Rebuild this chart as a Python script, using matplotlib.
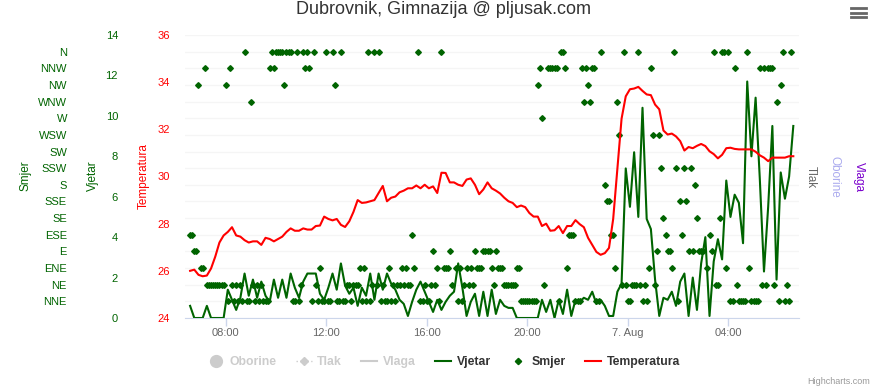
import numpy as np
import matplotlib.pyplot as plt
from matplotlib.lines import Line2D

plt.rcParams['font.family'] = ['Liberation Sans', 'DejaVu Sans']

# wind direction categories, bottom (1) to top (16)
smjer_kat = ['NNE', 'NE', 'ENE', 'E', 'ESE', 'SE', 'SSE', 'S',
             'SSW', 'SW', 'WSW', 'W', 'WNW', 'NW', 'NNW', 'N']

start_h = 6 + 35 / 60  # 06:35, hours since 6. Aug 00:00

# temperature every 10 min
temp = [26.0, 26.05, 25.83, 25.77, 25.8, 26.1, 26.6, 27.2, 27.5, 27.65,
        27.85, 27.5, 27.45, 27.3, 27.2, 27.25, 27.25, 27.1, 27.4, 27.35,
        27.25, 27.35, 27.45, 27.65, 27.8, 27.7, 27.7, 27.8, 27.75, 27.75,
        27.9, 27.92, 28.3, 28.2, 28.14, 28.2, 27.95, 27.86, 28.1, 28.5,
        29.0, 28.88, 28.9, 28.95, 29.0, 29.3, 29.6, 28.95, 29.1, 29.15,
        29.33, 29.4, 29.5, 29.5, 29.62, 29.5, 29.65, 29.5, 29.58, 29.3,
        30.16, 30.15, 29.75, 29.75, 29.65, 29.6, 29.87, 29.92, 29.65, 29.25,
        29.45, 29.75, 29.5, 29.4, 29.28, 29.1, 28.95, 28.88, 28.7, 28.77,
        28.7, 28.45, 28.3, 28.3, 27.9, 28.0, 27.7, 27.72, 27.9, 27.6,
        27.9, 27.9, 28.15, 27.98, 27.85, 27.4, 27.1, 26.8, 26.68, 26.75,
        26.97, 28.2, 30.3, 32.45, 33.4, 33.7, 33.73, 33.8, 33.63, 33.48,
        33.45, 33.05, 32.85, 31.95, 31.78, 31.82, 31.7, 31.5, 31.1, 31.25,
        31.2, 31.3, 31.38, 31.29, 31.07, 30.95, 30.77, 30.92, 31.2, 31.22,
        31.17, 31.15, 31.15, 31.15, 31.15, 31.05, 30.9, 30.8, 30.65, 30.8,
        30.8, 30.8, 30.8, 30.86, 30.86]

# wind speed every 10 min
vjetar = [0.6, 0, 0, 0, 0.6, 0, 0, 0, 0, 1.4,
          0.9, 0.4, 1.0, 2.2, 1.1, 1.9, 1.0, 1.8, 1.1, 0.8,
          1.9, 1.0, 1.9, 1.0, 2.2, 1.5, 1.0, 1.8, 2.2, 2.2,
          2.2, 1.2, 0.9, 1.5, 2.2, 1.4, 2.7, 1.6, 1.2, 1.5,
          0.6, 1.5, 1.1, 2.2, 0.9, 2.2, 1.4, 2.2, 1.7, 1.4,
          0.9, 0.7, 0.1, 0.8, 1.4, 1.8, 1.3, 0.8, 0.3, 0.9,
          0.4, 0.8, 1.1, 1.3, 2.7, 1.5, 0.1, 0.8, 1.2, 0.1,
          1.3, 0.1, 1.4, 0.2, 0.9, 0.6, 0.5, 0.5, 0, 0,
          0, 0, 0, 0, 0.9, 0.3, 0.9, 0, 0.9, 0.2,
          1.4, 0.1, 0.9, 0.8, 1.0, 0.9, 1.3, 0.7, 0.9, 0.6,
          0.1, 0.1, 1.3, 1.7, 7.4, 5.5, 8.2, 5.0, 10.4, 4.9,
          4.4, 1.9, 0.1, 1.0, 0.9, 1.3, 0.6, 1.8, 2.2, 0.1,
          2.0, 0.4, 2.7, 4.0, 0.1, 2.8, 3.9, 2.9, 6.8, 5.0,
          6.1, 5.7, 3.7, 11.7, 8.0, 10.9, 6.9, 2.3, 5.5, 9.5,
          1.9, 7.2, 5.9, 7.0, 9.5]

# wind direction every 5 min ('-' = none)
smjer = """
ESE ESE E E NW ENE ENE NNW NE NE
NE NE NE NE NE NE NE NW NNE NNW
NE NNE NE NNE NE NNE N NNE NNE WNW
NE NNE NE NNE NE NNE NNE NNE NNW N
NNW N N N N NW N N N NNE
NNE N NNE NE N NNW N NNW NNE N
NE NNE ENE NNE NNE N NNE NNE N NW
NNE NNE N NNE NNE NE NE NNE NE NE
NE ENE NNE ENE NNE N NNE NE N NE
N NNE NE NNE NNE ENE NNE NE NNE NE
NE ENE NE ENE NE NE ESE ENE - N
NNE NNE NE NNE NNE NE E NE ENE NNE
N ENE ENE ENE E NE - ENE NNE ENE
NNE NE ENE NE ENE NE E ENE ENE ENE
E E E E ENE NE E ENE ENE ENE
NE NE NE NE NE NE ENE ENE NNE NNE
NNE NNE NNE NNE NNE NNE NW NNW W NE
- NNW NNW NNW NNW NNW NNE N N NNW
ENE ESE ESE ESE NNE NNE NNE NNW WNW NNW
NW WNW NNW NNW NNE NNE N - S SSE
SSE ESE ESE ENE WNW WSW NE N NE NNE
NNE NE NE NE N NE NNE NE NNE ENE
NNW WSW NE E WSW SSW SE ESE E E
ENE N SSW NNE SSE ESE SSW SSE E SSW
E S SE E E E - ENE ESE E
N NE NE SE N N ENE N NNE NNE
NNW NE NNE NNE NNE NNE N ENE NNE NNE
NNE NNE NNW NE NNW NE NNW NNW NNW NE
WNW NNE NW N NNE NE NNE N -
""".split()

xtick_h = [8, 12, 16, 20, 24, 28]
xtick_lab = ['08:00', '12:00', '16:00', '20:00', '7. Aug', '04:00']

t10 = start_h + np.arange(len(temp)) * 10 / 60
t5 = start_h + np.arange(len(smjer)) * 5 / 60
smjer_val = np.array([smjer_kat.index(s) + 1 if s != '-' else np.nan for s in smjer])

green = '#006400'
fig = plt.figure(figsize=(8.76, 3.86), dpi=100)
W, H = 876, 386
rect = [185 / W, 1 - 318 / H, 614 / W, 283 / H]

ax_s = fig.add_axes(rect)
ax_v = fig.add_axes(rect, sharex=ax_s)
ax_t = fig.add_axes(rect, sharex=ax_s)
for a in (ax_v, ax_t):
    a.set_facecolor('none')
for a in (ax_s, ax_v, ax_t):
    for sp in a.spines.values():
        sp.set_visible(False)

ax_s.set_xlim(6.38, 30.81)
ax_s.set_ylim(0, 17)
ax_v.set_ylim(0, 14)
ax_t.set_ylim(24, 36)

# faint grid
for k in range(0, 18):
    ax_s.axhline(k, color='#f5f5f5', lw=1, zorder=0)

ax_s.spines['bottom'].set_visible(True)
ax_s.spines['bottom'].set_color('#ccd6eb')
ax_s.set_xticks(xtick_h)
ax_s.set_xticklabels(xtick_lab)
ax_s.tick_params(axis='x', length=6, width=1, color='#ccd6eb', labelcolor='#666666',
                 labelsize=8, pad=1)
for a in (ax_v, ax_t):
    a.tick_params(axis='x', bottom=False, labelbottom=False)

ax_s.set_yticks(range(1, 17))
ax_s.set_yticklabels(smjer_kat)
ax_s.tick_params(axis='y', length=0, labelcolor=green, labelsize=8, pad=118 * 0.72)

ax_v.set_yticks(range(0, 15, 2))
ax_v.tick_params(axis='y', length=0, labelcolor=green, labelsize=8, pad=67 * 0.72)

ax_t.set_yticks(range(24, 37, 2))
ax_t.tick_params(axis='y', length=0, labelcolor='#ff0000', labelsize=8, pad=15 * 0.72)

ax_v.plot(t10, vjetar, color=green, lw=1.5, zorder=3)
ax_s.plot(t5, smjer_val, ls='', marker='D', ms=2.9, color=green, zorder=4)
ax_t.plot(t10, temp, color='#ff0000', lw=1.5, zorder=5)

# axis titles
fig.text(25 / W, 1 - 176 / H, 'Smjer', rotation=90, ha='center', va='center', color=green, fontsize=8.5)
fig.text(93 / W, 1 - 176 / H, 'Vjetar', rotation=90, ha='center', va='center', color=green, fontsize=8.5)
fig.text(144 / W, 1 - 176 / H, 'Temperatura', rotation=90, ha='center', va='center', color='#ff0000', fontsize=8.5)
fig.text(811 / W, 1 - 177 / H, 'Tlak', rotation=270, ha='center', va='center', color='#666666', fontsize=8.5)
fig.text(834 / W, 1 - 177 / H, 'Oborine', rotation=270, ha='center', va='center', color='#aaaaee', fontsize=8.5)
fig.text(859 / W, 1 - 177 / H, 'Vlaga', rotation=270, ha='center', va='center', color='#7a00cc', fontsize=8.5)

fig.text(443 / W, 1 - 9 / H, 'Dubrovnik, Gimnazija @ pljusak.com', ha='center', va='center',
         color='#333333', fontsize=13)
fig.text(870 / W, 1 - 381 / H, 'Highcharts.com', ha='right', va='center', color='#999999', fontsize=6.5)

# menu icon
for yy in (8, 12.5, 17):
    fig.add_artist(Line2D([851 / W, 866 / W], [1 - yy / H, 1 - yy / H], color='#666666', lw=2))

grey = '#cccccc'
handles = [
    Line2D([], [], ls='', marker='o', ms=8.5, color=grey),
    Line2D([], [], ls=':', marker='D', ms=4, color=grey, lw=1),
    Line2D([], [], color=grey, lw=1.5),
    Line2D([], [], color=green, lw=1.5),
    Line2D([], [], ls='', marker='D', ms=3.2, color=green),
    Line2D([], [], color='#ff0000', lw=1.5),
]
labels = ['Oborine', 'Tlak', 'Vlaga', 'Vjetar', 'Smjer', 'Temperatura']
leg = fig.legend(handles, labels, ncol=6, loc='center', bbox_to_anchor=(444 / W, 1 - 362 / H),
                 frameon=False, handlelength=1.3, handletextpad=0.45, columnspacing=1.6,
                 prop={'weight': 'bold', 'size': 8.8})
for txt, c in zip(leg.get_texts(), [grey, grey, grey, '#333333', '#333333', '#333333']):
    txt.set_color(c)

fig.savefig('out.png', dpi=100)
